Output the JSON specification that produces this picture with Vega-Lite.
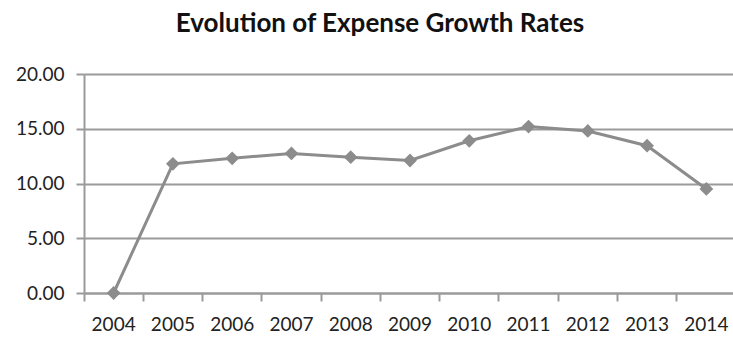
{
  "$schema": "https://vega.github.io/schema/vega-lite/v6.json",
  "width": 652,
  "height": 219,
  "autosize": {"type": "none"},
  "padding": {"left": 84, "top": 74, "right": 0, "bottom": 50},
  "background": "white",
  "title": {
    "text": "Evolution of Expense Growth Rates",
    "font": "Lato",
    "fontSize": 26,
    "fontWeight": "bold",
    "color": "#111111",
    "anchor": "middle",
    "dx": -30,
    "offset": 28
  },
  "config": {"view": {"stroke": null}},
  "data": {
    "values": [
      {"year": "2004", "rate": 0.0},
      {"year": "2005", "rate": 11.8},
      {"year": "2006", "rate": 12.3},
      {"year": "2007", "rate": 12.75},
      {"year": "2008", "rate": 12.4},
      {"year": "2009", "rate": 12.1},
      {"year": "2010", "rate": 13.9},
      {"year": "2011", "rate": 15.2},
      {"year": "2012", "rate": 14.8},
      {"year": "2013", "rate": 13.45},
      {"year": "2014", "rate": 9.5}
    ]
  },
  "mark": {
    "type": "line",
    "color": "#8c8c8c",
    "strokeWidth": 3,
    "point": {"shape": "diamond", "size": 190, "filled": true, "color": "#8c8c8c"}
  },
  "encoding": {
    "x": {
      "field": "year",
      "type": "ordinal",
      "bandPosition": 0.5,
      "scale": {"type": "band", "paddingInner": 0, "paddingOuter": 0},
      "axis": {
        "title": null,
        "labelAngle": 0,
        "labelFont": "Lato",
        "labelFontSize": 19,
        "labelColor": "#222222",
        "labelPadding": 14,
        "domainColor": "#9a9a9a",
        "domainWidth": 2,
        "tickColor": "#9a9a9a",
        "tickWidth": 2,
        "tickSize": 8,
        "bandPosition": 0,
        "grid": false
      }
    },
    "y": {
      "field": "rate",
      "type": "quantitative",
      "scale": {"domain": [0, 20]},
      "axis": {
        "title": null,
        "values": [0, 5, 10, 15, 20],
        "format": ".2f",
        "labelFont": "Lato",
        "labelFontSize": 19,
        "labelColor": "#222222",
        "labelPadding": 12,
        "domainColor": "#9a9a9a",
        "domainWidth": 2,
        "tickColor": "#9a9a9a",
        "tickWidth": 2,
        "tickSize": 8,
        "grid": true,
        "gridColor": "#9a9a9a",
        "gridWidth": 2
      }
    }
  }
}
